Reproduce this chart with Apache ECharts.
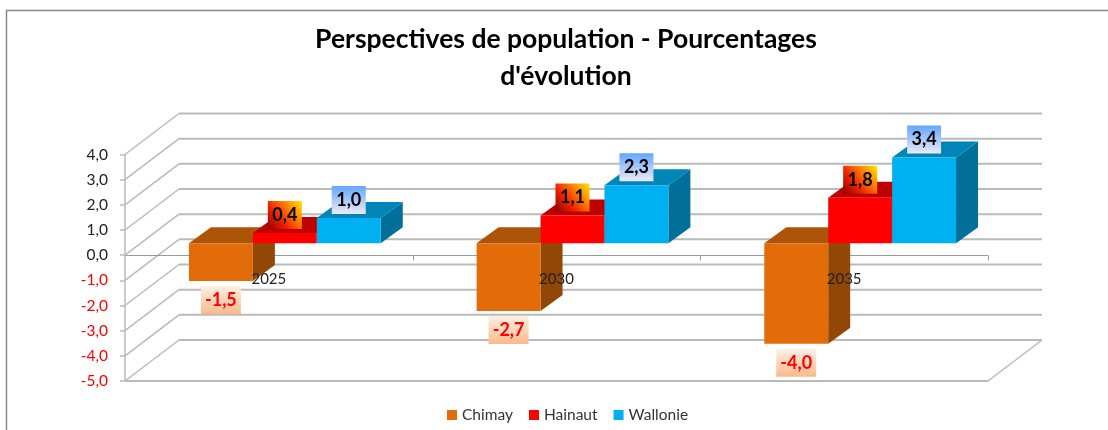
<!DOCTYPE html>
<html>
<head>
<meta charset="utf-8">
<style>
  html, body { margin: 0; padding: 0; background: #fff; }
  #main { width: 1108px; height: 430px; }
</style>
<script src="https://cdn.jsdelivr.net/npm/echarts@6/dist/echarts.min.js"></script>
</head>
<body>
<div id="main"></div>
<script>
const categories = ['2025', '2030', '2035'];
const chimay = [-1.5, -2.7, -4.0];
const hainaut = [0.4, 1.1, 1.8];
const wallonie = [1.0, 2.3, 3.4];
const yTicks = [-5, -4, -3, -2, -1, 0, 1, 2, 3, 4];
const titleLines = ['Perspectives de population - Pourcentages', "d'évolution"];

const FONT = 'Lato';
const GRID = { left: 125, right: 120, top: 154.5, bottom: 49 };
const CHART_H = 430;
// fake 3d offsets, in px
const WALL = [54, -41];   // front of the floor -> back wall
const BAR_POS = [16, -12]; // front of the floor -> front of the bars
const BAR_DEPTH = [22, -16];

const fmt = v => v.toFixed(1).replace('.', ',');

const chart = echarts.init(document.getElementById('main'));

function poly(points, fill) {
  return { type: 'polygon', shape: { points }, style: { fill } };
}

// walls and floor, one item per y tick
function renderFrame(params, api) {
  const cs = params.coordSys;
  const left = cs.x, right = cs.x + cs.width;
  const val = api.value(0);
  const y = api.coord([0, val])[1];
  const line = { stroke: '#bababa', lineWidth: 2, fill: 'none' };
  const thin = { stroke: '#bababa', lineWidth: 1.5, fill: 'none' };
  const children = [
    { type: 'line', shape: { x1: left, y1: y, x2: left + WALL[0], y2: y + WALL[1] }, style: thin },
    { type: 'line', shape: { x1: left + WALL[0], y1: y + WALL[1], x2: right + WALL[0], y2: y + WALL[1] }, style: line }
  ];
  if (val === yTicks[0]) {
    children.push({ type: 'line', shape: { x1: left, y1: y, x2: right, y2: y }, style: line });
    children.push({ type: 'line', shape: { x1: right, y1: y, x2: right + WALL[0], y2: y + WALL[1] }, style: thin });
  }
  if (val === 0) {
    // x axis line and ticks, behind the bars
    const axisStyle = { stroke: '#999', lineWidth: 1, fill: 'none' };
    const yy = Math.round(y) + 0.5;
    children.push({ type: 'line', shape: { x1: left, y1: yy, x2: right, y2: yy }, style: axisStyle });
    categories.forEach((c, i) => {
      const tx = Math.round(left + (i + 1) * cs.width / categories.length) + 0.5;
      children.push({ type: 'line', shape: { x1: tx, y1: yy, x2: tx, y2: yy + 5 }, style: axisStyle });
    });
  }
  return { type: 'group', children };
}

function renderBar(seriesPos, colors, labelFill, textColor) {
  return function (params, api) {
    const cat = api.value(0), val = api.value(1);
    const band = api.size([1, 0])[0];
    const barW = band / 4.5;
    const p0 = api.coord([cat, 0]);
    const pv = api.coord([cat, val]);
    const x0 = p0[0] + BAR_POS[0] + (seriesPos - 1.5) * barW;
    const x1 = x0 + barW;
    const yZero = p0[1] + BAR_POS[1];
    const yVal = pv[1] + BAR_POS[1];
    const yTop = Math.min(yZero, yVal), yBot = Math.max(yZero, yVal);
    const dx = BAR_DEPTH[0], dy = BAR_DEPTH[1];
    const cx = (x0 + x1) / 2;
    const boxW = val < 0 ? 40 : 34, boxH = 28;
    const boxCy = val < 0 ? yVal + 19 : yVal - 18;
    return {
      type: 'group',
      children: [
        poly([[x1, yTop], [x1 + dx, yTop + dy], [x1 + dx, yBot + dy], [x1, yBot]], colors[2]),
        poly([[x0, yTop], [x1, yTop], [x1 + dx, yTop + dy], [x0 + dx, yTop + dy]], colors[1]),
        poly([[x0, yTop], [x1, yTop], [x1, yBot], [x0, yBot]], colors[0]),
        {
          type: 'rect',
          shape: { x: cx - boxW / 2, y: boxCy - boxH / 2, width: boxW, height: boxH },
          style: { fill: labelFill }
        },
        {
          type: 'text',
          style: {
            x: cx, y: boxCy,
            text: fmt(val),
            align: 'center', verticalAlign: 'middle',
            fill: textColor, font: 'bold 18px ' + FONT
          }
        }
      ]
    };
  };
}

const grad = (x, y, x2, y2, stops) => new echarts.graphic.LinearGradient(x, y, x2, y2, stops);
const orangeLabel = grad(0, 0, 0, 1, [
  { offset: 0, color: '#fdf0e6' }, { offset: 1, color: '#fbb98a' }
]);
const redLabel = grad(0, 1, 1, 0, [
  { offset: 0, color: '#8c0000' }, { offset: 0.35, color: '#f02000' },
  { offset: 0.7, color: '#ff8c00' }, { offset: 1, color: '#ffe600' }
]);
const blueLabel = grad(0, 0, 0, 1, [
  { offset: 0, color: '#62a6ff' }, { offset: 1, color: '#eeeaf4' }
]);

const barSeries = (name, values, pos, colors, labelFill, textColor) => ({
  name,
  type: 'custom',
  coordinateSystem: 'cartesian2d',
  z: 3,
  itemStyle: { color: colors[0] },
  clip: false,
  renderItem: renderBar(pos, colors, labelFill, textColor),
  encode: { x: 0, y: 1 },
  data: values.map((v, i) => [i, v])
});

const yMin = yTicks[0], yMax = yTicks[yTicks.length - 1];
const gridH = CHART_H - GRID.top - GRID.bottom;
// labels sit under the zero line, not under the floor
const zeroOffset = -gridH * (0 - yMin) / (yMax - yMin);

chart.setOption({
  animation: false,
  backgroundColor: '#fff',
  title: {
    text: titleLines.join('\n'),
    left: 561,
    top: 16,
    textAlign: 'center',
    textStyle: { fontFamily: FONT, fontWeight: 'bold', fontSize: 26.5, lineHeight: 37, color: '#000' }
  },
  legend: {
    data: ['Chimay', 'Hainaut', 'Wallonie'],
    left: 442,
    top: 402,
    icon: 'rect',
    itemWidth: 10,
    itemHeight: 10,
    itemGap: 16,
    textStyle: { fontFamily: FONT, fontSize: 15.5, color: '#333' }
  },
  grid: GRID,
  xAxis: {
    // only the labels come from here, they are printed over the bars
    type: 'category',
    data: categories,
    z: 5,
    offset: zeroOffset,
    axisLine: { show: false, onZero: false },
    axisTick: { show: false },
    axisLabel: { fontFamily: FONT, fontSize: 15, color: '#222', margin: 16 }
  },
  yAxis: {
    type: 'value',
    min: yMin,
    max: yMax,
    interval: 1,
    splitLine: { show: false },
    axisLine: { show: true, onZero: false, lineStyle: { color: '#bababa', width: 1.5 } },
    axisTick: { show: true, length: 5, lineStyle: { color: '#bababa', width: 1.5 } },
    axisLabel: {
      fontFamily: FONT,
      fontSize: 15.5,
      margin: 17,
      formatter: v => (v < 0 ? '{neg|' + fmt(v) + '}' : fmt(v)),
      color: '#222',
      rich: { neg: { color: '#ff0000', fontFamily: FONT, fontSize: 15.5 } }
    }
  },
  series: [
    {
      type: 'custom',
      coordinateSystem: 'cartesian2d',
      z: 0,
      silent: true,
      clip: false,
      renderItem: renderFrame,
      encode: { y: 0 },
      data: yTicks.map(v => [v])
    },
    barSeries('Chimay', chimay, 0, ['#e36c0a', '#ae5408', '#934706'], orangeLabel, '#ff0000'),
    barSeries('Hainaut', hainaut, 1, ['#ff0000', '#c00000', '#a80000'], redLabel, '#000'),
    barSeries('Wallonie', wallonie, 2, ['#00b0f0', '#0085b8', '#006f9a'], blueLabel, '#000')
  ],
  graphic: [{
    type: 'polyline',
    z: -1,
    shape: { points: [[6.5, 430], [6.5, 10.5], [1108, 10.5]] },
    style: { stroke: '#888', lineWidth: 1.5, fill: 'none' }
  }]
});
</script>
</body>
</html>
